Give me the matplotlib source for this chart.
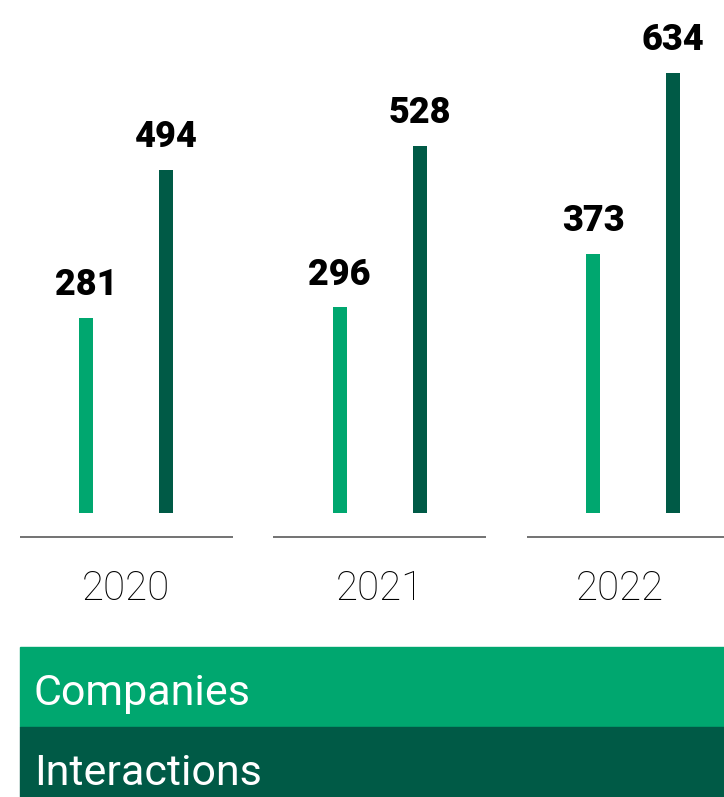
import matplotlib.pyplot as plt
from matplotlib.patches import Rectangle

# --- data ---
years = ['2020', '2021', '2022']
companies = [281, 296, 373]
interactions = [494, 528, 634]

LIGHT = '#00A76F'
DARK = '#005A46'

plt.rcParams['font.family'] = ['Roboto', 'DejaVu Sans']

W, H = 724, 797
fig = plt.figure(figsize=(W / 100, H / 100), dpi=100)

# main chart area: top 620 px of the figure
chart_h = 620
ax = fig.add_axes([0, 1 - chart_h / H, 1, chart_h / H])
px_per_unit = 0.6944          # vertical scale, pixels per value
base_px = 513                 # bar baseline (value 0) from top
ax.set_ylim(-(chart_h - base_px) / px_per_unit, base_px / px_per_unit)
group_px = 253.5
first_px = 126
ax.set_xlim(-first_px / group_px, (W - first_px) / group_px)
ax.axis('off')

x = range(len(years))
off = 80 / group_px / 2
bw = 14 / group_px
ax.bar([i - off for i in x], companies, width=bw, color=LIGHT)
ax.bar([i + off for i in x], interactions, width=bw, color=DARK)

for i in x:
    for xpos, v in ((i - off, companies[i]), (i + off, interactions[i])):
        ax.annotate(str(v), (xpos, v), xytext=(0, 16.5), textcoords='offset points',
                    ha='center', va='baseline', fontsize=26, fontweight='black')

# separator line under each group and the year label
line_y = -(537 - base_px) / px_per_unit
half = 106.5 / group_px
label_y = -(600 - base_px) / px_per_unit
label_shift = [0, 0, -13 / group_px]
for i in x:
    ax.plot([i - half, i + half], [line_y, line_y], color='#5a5a5a', lw=1.2,
            solid_capstyle='butt')
    ax.text(i + label_shift[i], label_y, years[i], ha='center', va='baseline',
            fontsize=29, fontweight='light', color='black')

# legend bands at the bottom
def band(y0, y1, color, label, base):
    fig.patches.append(Rectangle((20 / W, 1 - y1 / H), (W - 20) / W, (y1 - y0) / H,
                                 transform=fig.transFigure, color=color, zorder=0))
    fig.text(34 / W, 1 - base / H, label, color='white', fontsize=31,
             ha='left', va='baseline')

band(646.5, 727, LIGHT, 'Companies', 705)
band(727, 797, DARK, 'Interactions', 785)

fig.savefig('out.png', dpi=100)
